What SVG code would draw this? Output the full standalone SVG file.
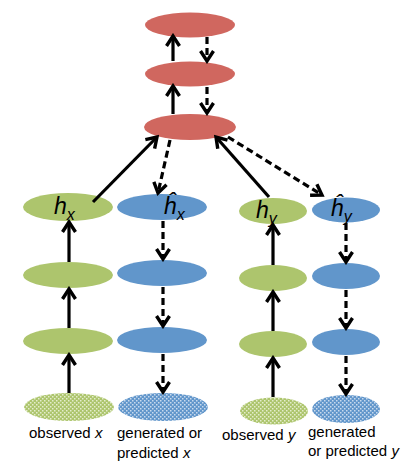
<svg xmlns="http://www.w3.org/2000/svg" width="415" height="471" viewBox="0 0 415 471">
<style>
.r{fill:#D0675F}
.g{fill:#ADC56D}
.b{fill:#6196CB}
.c{stroke:#000;stroke-width:3.2;fill:none}
.d{stroke-dasharray:7,4}
.t{font-family:"Liberation Sans",Arial,sans-serif;font-size:15px;fill:#000}
.h{font-family:"Liberation Sans",Arial,sans-serif;font-style:italic;fill:#000}
</style>
<defs>
<marker id="ah" viewBox="0 0 16 16" refX="13" refY="8" markerWidth="16" markerHeight="16" orient="auto" markerUnits="userSpaceOnUse">
<path d="M3,1.5 L13,8 L3,14.5" fill="none" stroke="#000" stroke-width="3.4" stroke-dasharray="none"/>
</marker>
<pattern id="pg" width="4" height="4" patternUnits="userSpaceOnUse">
<rect width="4" height="4" fill="#ADC56D"/>
<rect x="0" y="0" width="1.5" height="1.5" fill="#E4EDCC"/>
<rect x="2" y="2" width="1.5" height="1.5" fill="#E4EDCC"/>
</pattern>
<pattern id="pb" width="4" height="4" patternUnits="userSpaceOnUse">
<rect width="4" height="4" fill="#6196CB"/>
<rect x="0" y="0" width="1.5" height="1.5" fill="#C8DAEE"/>
<rect x="2" y="2" width="1.5" height="1.5" fill="#C8DAEE"/>
</pattern>
</defs>
<g id="red1"><ellipse class="r" cx="190" cy="25" rx="45" ry="12.5"/></g>
<g id="red2"><ellipse class="r" cx="190" cy="74" rx="45" ry="12.5"/></g>
<g id="red3"><ellipse class="r" cx="190" cy="127" rx="46" ry="13"/></g>
<g id="gx1"><ellipse class="g" cx="68" cy="207" rx="45" ry="14"/>
<text class="h" x="54" y="214" font-size="23">h<tspan font-size="16" dy="6">x</tspan></text></g>
<g id="bx1"><ellipse class="b" cx="162" cy="207" rx="45" ry="13"/>
<text class="h" x="164" y="214" font-size="23">ĥ<tspan font-size="16" dy="6">x</tspan></text></g>
<g id="gy1"><ellipse class="g" cx="273" cy="211" rx="34" ry="13"/>
<text class="h" x="256" y="218" font-size="23">h<tspan font-size="16" dy="6">y</tspan></text></g>
<g id="by1"><ellipse class="b" cx="346" cy="210" rx="34" ry="12.5"/>
<text class="h" x="331" y="216" font-size="23">ĥ<tspan font-size="16" dy="6">y</tspan></text></g>
<g id="gx2"><ellipse class="g" cx="68" cy="275" rx="45" ry="13"/></g>
<g id="bx2"><ellipse class="b" cx="162" cy="273" rx="45" ry="13"/></g>
<g id="gy2"><ellipse class="g" cx="273" cy="278" rx="34" ry="13"/></g>
<g id="by2"><ellipse class="b" cx="346" cy="276" rx="34" ry="13"/></g>
<g id="gx3"><ellipse class="g" cx="68" cy="341" rx="45" ry="13"/></g>
<g id="bx3"><ellipse class="b" cx="162" cy="340" rx="45" ry="13"/></g>
<g id="gy3"><ellipse class="g" cx="273" cy="344" rx="34" ry="13"/></g>
<g id="by3"><ellipse class="b" cx="346" cy="342" rx="34" ry="13"/></g>
<g id="gx4"><ellipse fill="url(#pg)" cx="69" cy="407" rx="45" ry="14"/><text class="t" x="29" y="438">observed <tspan font-style="italic">x</tspan></text></g>
<g id="bx4"><ellipse fill="url(#pb)" cx="163" cy="407" rx="45" ry="14"/><text class="t" x="117" y="438">generated or</text><text class="t" x="117" y="458">predicted <tspan font-style="italic">x</tspan></text></g>
<g id="gy4"><ellipse fill="url(#pg)" cx="274" cy="411" rx="34" ry="13.5"/><text class="t" x="222" y="440">observed <tspan font-style="italic">y</tspan></text></g>
<g id="by4"><ellipse fill="url(#pb)" cx="346" cy="409" rx="34" ry="14"/><text class="t" x="308" y="437">generated</text><text class="t" x="308" y="456">or predicted <tspan font-style="italic">y</tspan></text></g>
<g id="connectors">
<line class="c" x1="173" y1="61" x2="173" y2="36" marker-end="url(#ah)"/>
<line class="c d" x1="207" y1="37" x2="207" y2="61" marker-end="url(#ah)"/>
<line class="c" x1="173" y1="114" x2="173" y2="86" marker-end="url(#ah)"/>
<line class="c d" x1="207" y1="87" x2="207" y2="113" marker-end="url(#ah)"/>
<line class="c" x1="93" y1="202" x2="157" y2="137" marker-end="url(#ah)"/>
<line class="c d" x1="170" y1="140" x2="158" y2="193" marker-end="url(#ah)"/>
<line class="c" x1="269" y1="197" x2="216" y2="137" marker-end="url(#ah)"/>
<line class="c d" x1="228" y1="137" x2="322" y2="195" marker-end="url(#ah)"/>
<line class="c" x1="69" y1="262" x2="69" y2="222" marker-end="url(#ah)"/>
<line class="c" x1="69" y1="328" x2="69" y2="289" marker-end="url(#ah)"/>
<line class="c" x1="69" y1="393" x2="69" y2="355" marker-end="url(#ah)"/>
<line class="c d" x1="163" y1="221" x2="163" y2="259" marker-end="url(#ah)"/>
<line class="c d" x1="163" y1="287" x2="163" y2="326" marker-end="url(#ah)"/>
<line class="c d" x1="163" y1="354" x2="163" y2="392" marker-end="url(#ah)"/>
<line class="c" x1="273" y1="265" x2="273" y2="225" marker-end="url(#ah)"/>
<line class="c" x1="273" y1="331" x2="273" y2="292" marker-end="url(#ah)"/>
<line class="c" x1="273" y1="397" x2="273" y2="358" marker-end="url(#ah)"/>
<line class="c d" x1="346" y1="223" x2="346" y2="262" marker-end="url(#ah)"/>
<line class="c d" x1="346" y1="290" x2="346" y2="328" marker-end="url(#ah)"/>
<line class="c d" x1="346" y1="356" x2="346" y2="394" marker-end="url(#ah)"/>
</g>
</svg>
